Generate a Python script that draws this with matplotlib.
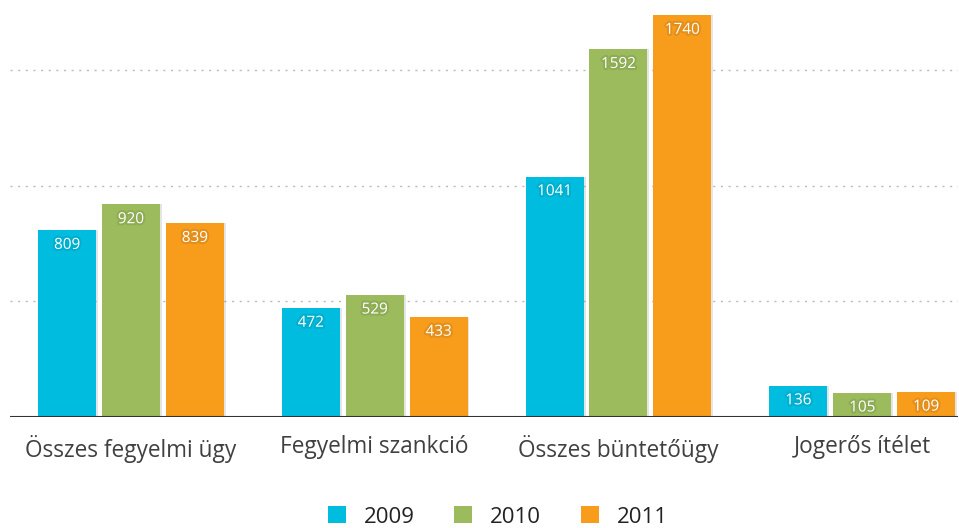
import matplotlib
matplotlib.use('Agg')
from matplotlib import pyplot as plt
from matplotlib import patheffects as pe
from matplotlib.patches import Patch
import numpy as np

categories = ['Összes fegyelmi ügy', 'Fegyelmi szankció', 'Összes büntetőügy', 'Jogerős ítélet']
years = ['2009', '2010', '2011']
values_2009 = [809, 472, 1041, 136]
values_2010 = [920, 529, 1592, 105]
values_2011 = [839, 433, 1740, 109]

colors = ['#00BDE0', '#9BBB5C', '#F89C1C']
series = [values_2009, values_2010, values_2011]

plt.rcParams['font.family'] = ['Open Sans', 'DejaVu Sans']

fig = plt.figure(figsize=(9.59, 5.28), dpi=100)
ax = fig.add_axes([10 / 959, 111 / 528, 948 / 959, 417 / 528])

x = np.arange(len(categories))
offset = 0.262
width = 0.238

for i, vals in enumerate(series):
  pos = x + (i - 1) * offset
  # soft shadow
  ax.bar(pos + 0.008, vals, width=width, color='black', alpha=0.10, zorder=2)
  bars = ax.bar(pos, vals, width=width, color=colors[i], zorder=3)
  for xp, v in zip(pos, vals):
    ax.text(xp, v - 66, str(v), ha='center', va='center', color='white',
            fontsize=11, zorder=4,
            path_effects=[pe.withStroke(linewidth=3, foreground='black', alpha=0.08)])

ax.set_xlim(-0.496, 3.393)
ax.set_ylim(0, 1805)

for gy in [500, 1000, 1500]:
  ax.axhline(gy, color='#BBBBBB', linestyle=(0, (1.5, 4)), linewidth=1, zorder=1)
ax.axhline(0, color='#333333', linewidth=1.5, zorder=5)

for s in ax.spines.values():
  s.set_visible(False)
ax.set_yticks([])
ax.set_xticks(x)
ax.set_xticklabels(categories, fontsize=16.3, color='#404040')
ax.tick_params(axis='x', length=0, pad=13)

handles = [Patch(facecolor=c, edgecolor='none') for c in colors]
fig.legend(handles, years, loc='lower center', bbox_to_anchor=(0.519, -0.037), ncol=3,
           frameon=False, fontsize=16, handlelength=0.8, handleheight=0.8,
           handletextpad=0.8, columnspacing=1.8, labelcolor='#222222')

fig.savefig('out.png', dpi=100)
